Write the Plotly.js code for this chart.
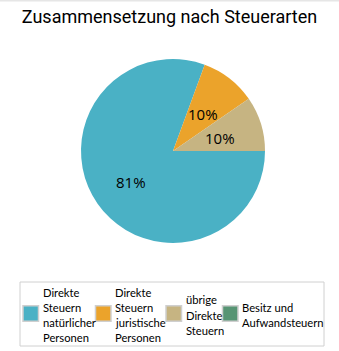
<!DOCTYPE html>
<html>
<head>
<meta charset="utf-8">
<script src="https://cdn.plot.ly/plotly-3.0.1.min.js"></script>
<style>html,body{margin:0;padding:0;background:#fff;}#chart{width:339px;height:351px;}</style>
</head>
<body>
<div id="chart"></div>
<script>
// ---- data ----
var categories = [
  ["Direkte", "Steuern", "natürlicher", "Personen"],
  ["Direkte", "Steuern", "juristische", "Personen"],
  ["übrige", "Direkte", "Steuern"],
  ["Besitz und", "Aufwandsteuern"]
];
var shares = [80.6, 9.8, 9.6, 0];
var colors = ["#4AB1C5", "#EBA32B", "#C6B482", "#579574"];

// ---- layout constants ----
var W = 339, H = 351;
var dom = {x: [81/W, 265/W], y: [(H-243)/H, (H-59)/H]};
var legendBox = {x0: 20, x1: 324, y0: 282, y1: 346};   // px from top-left
var legendSymX = [23, 95.5, 166, 222.5];
var legendTextX = [40.5, 113, 183.5, 240];
var legendMidY = 315, legendLine = 15.3, symSize = 15.5;

function px(x){ return x / W; }
function py(y){ return 1 - y / H; }

var trace = {
  type: "pie",
  labels: categories.map(function(c){ return c.join(" "); }),
  values: shares,
  sort: false,
  direction: "clockwise",
  rotation: 90,
  marker: {colors: colors, line: {width: 0}},
  textinfo: "none",
  hoverinfo: "label+percent",
  showlegend: false,
  domain: dom
};

// percentage labels along each slice's bisector
var total = shares.reduce(function(a, b){ return a + b; }, 0);
var rpx = (dom.x[1] - dom.x[0]) * W / 2;
var cx = (dom.x[0] + dom.x[1]) / 2, cy = (dom.y[0] + dom.y[1]) / 2;
var annotations = [];
var cum = 0;
shares.forEach(function(v){
  var f = v / total;
  if (f > 0) {
    var ang = -(cum + f / 2) * 2 * Math.PI;
    var k = f > 0.5 ? 0.56 : 0.53;
    annotations.push({
      xref: "paper", yref: "paper",
      x: cx + Math.cos(ang) * rpx * k / W,
      y: cy + (Math.sin(ang) * rpx * k - 1.5) / H,
      xanchor: "center", yanchor: "middle",
      text: Math.round(f * 100) + "%",
      showarrow: false,
      font: {family: "Open Sans, sans-serif", size: 15, color: "#000"}
    });
  }
  cum += f;
});

// legend (drawn with shapes + annotations to match the compact layout)
var shapes = [
  {type: "rect", xref: "paper", yref: "paper", x0: 0, x1: 1, y0: py(1.5), y1: 1,
   fillcolor: "#e6e6e6", line: {width: 0}, layer: "above"},
  {type: "rect", xref: "paper", yref: "paper",
   x0: px(legendBox.x0), x1: px(legendBox.x1), y0: py(legendBox.y1), y1: py(legendBox.y0),
   fillcolor: "rgba(0,0,0,0)", line: {color: "#d0d0d0", width: 1}}
];
categories.forEach(function(lines, i){
  shapes.push({type: "rect", xref: "paper", yref: "paper",
    x0: px(legendSymX[i]), x1: px(legendSymX[i] + symSize),
    y0: py(legendMidY - 1.5 + symSize / 2), y1: py(legendMidY - 1.5 - symSize / 2),
    fillcolor: colors[i], line: {color: "#cfcfcf", width: 1.5}});
  lines.forEach(function(t, j){
    annotations.push({
      xref: "paper", yref: "paper",
      x: px(legendTextX[i]), y: py(legendMidY + (j - (lines.length - 1) / 2) * legendLine),
      xanchor: "left", yanchor: "middle", showarrow: false,
      text: t,
      font: {family: "Lato, sans-serif", size: 11.2, color: "#000"}
    });
  });
});

var layout = {
  width: W, height: H,
  margin: {l: 0, r: 0, t: 0, b: 0},
  paper_bgcolor: "#fff",
  title: {text: "Zusammensetzung nach Steuerarten", x: 0.5, xanchor: "center", y: 1 - 17/H, yanchor: "middle",
          font: {family: "Roboto, sans-serif", size: 18, color: "#000"}},
  showlegend: false,
  annotations: annotations,
  shapes: shapes
};

Plotly.newPlot("chart", [trace], layout, {displayModeBar: false, staticPlot: true});
</script>
</body>
</html>
